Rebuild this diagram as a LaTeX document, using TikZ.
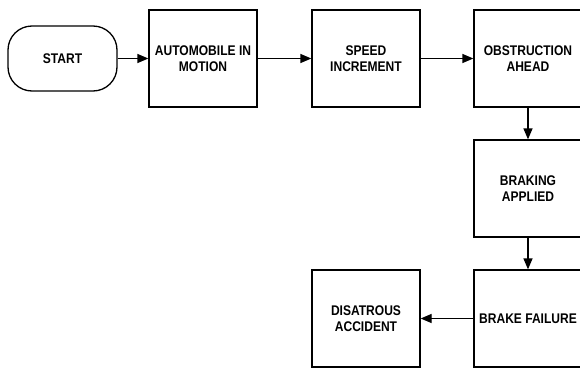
\documentclass[tikz,border=0pt]{standalone}
\usepackage{fontspec}
\setmainfont[FakeStretch=0.86]{Liberation Sans}
\usepackage{tikz}
\usetikzlibrary{arrows.meta}

\begin{document}
\begin{tikzpicture}[
    x=1pt, y=-1pt,
    font=\fontsize{14pt}{16pt}\selectfont\bfseries,
    box/.style={rectangle, draw=black, line width=1.3pt, inner sep=0pt,
                minimum width=108pt, minimum height=97pt, align=center},
    term/.style={box, rounded corners=24pt, minimum width=109pt,
                 minimum height=65pt},
    arr/.style={-{Triangle[length=11pt, width=9pt]}, line width=1.3pt}
]
\useasboundingbox (0,0) rectangle (580,367);
\clip (0,0) rectangle (580,367);
\fill[white] (0,0) rectangle (580,367);
\node[term] (start)    at (62.5, 58.5) {START};
\node[box]  (motion)   at (203, 58.5)  {AUTOMOBILE IN\\MOTION};
\node[box]  (speed)    at (366, 58.5)  {SPEED\\INCREMENT};
\node[box]  (obstr)    at (528, 58.5)  {OBSTRUCTION\\AHEAD};
\node[box]  (braking)  at (528, 188.5) {BRAKING\\APPLIED};
\node[box]  (failure)  at (528, 318.5) {BRAKE FAILURE};
\node[box]  (accident) at (366, 318.5) {DISATROUS\\ACCIDENT};
\draw[arr] (start) -- (motion);
\draw[arr] (motion) -- (speed);
\draw[arr] (speed) -- (obstr);
\draw[arr] (obstr) -- (braking);
\draw[arr] (braking) -- (failure);
\draw[arr] (failure) -- (accident);
\end{tikzpicture}
\end{document}
